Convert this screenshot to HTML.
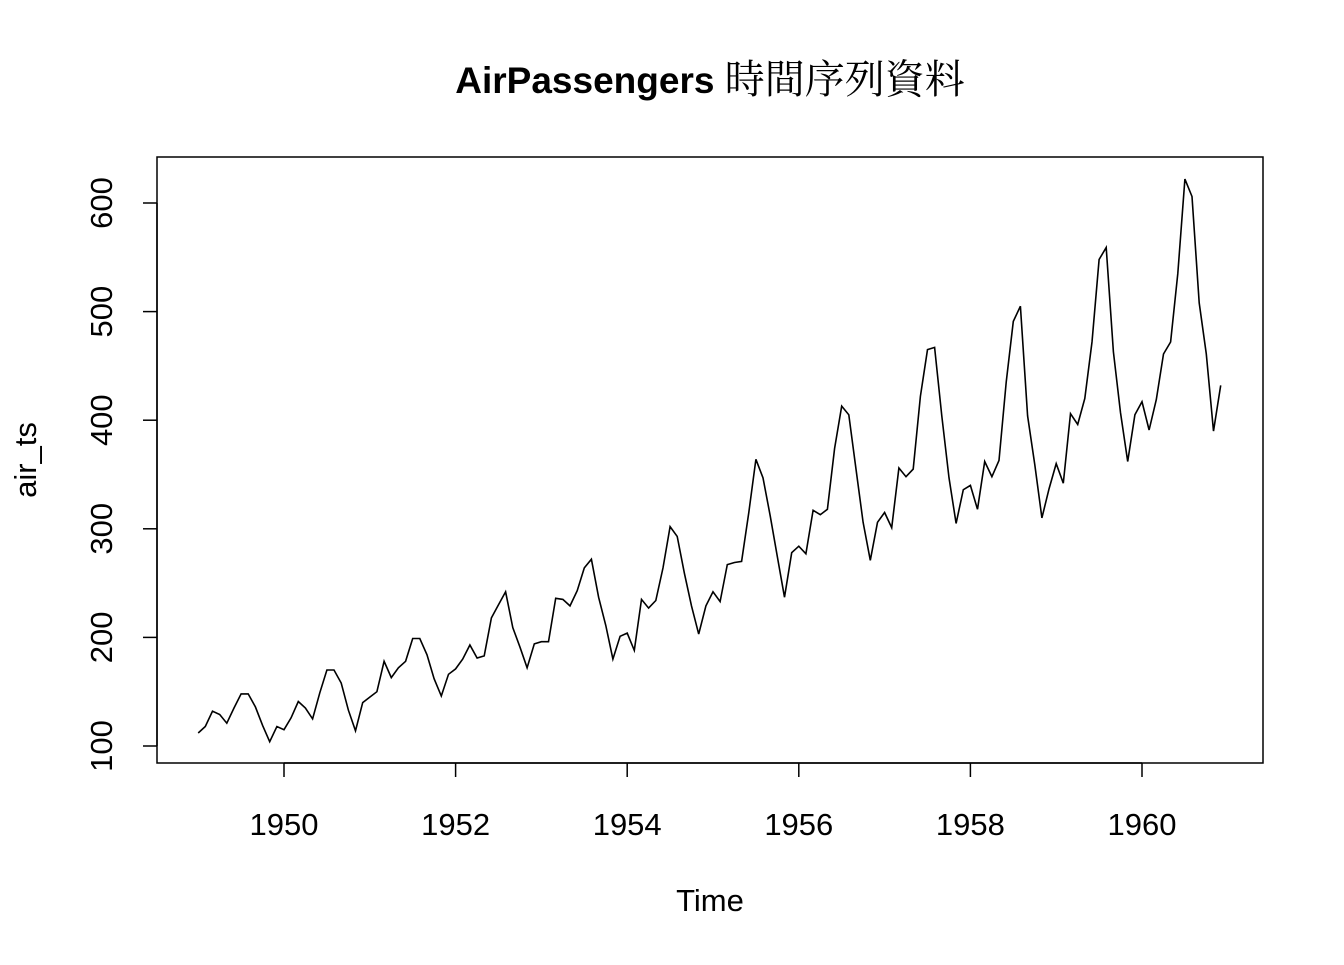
<!DOCTYPE html>
<html><head><meta charset="utf-8"><style>
html,body{margin:0;padding:0;background:#fff;}
svg text{font-family:"Liberation Sans","Noto Sans CJK TC",sans-serif;fill:#000;}
</style></head><body>
<svg id="chart" width="1344" height="960" viewBox="0 0 1344 960" xmlns="http://www.w3.org/2000/svg">
<rect width="1344" height="960" fill="#fff"/>
<text x="710" y="93" text-anchor="middle" font-size="37" font-weight="bold">AirPassengers <tspan style="font-family:'Noto Serif CJK SC','Noto Sans CJK TC',serif;font-weight:normal;font-size:40px">時間序列資料</tspan></text>
<rect x="157" y="157" width="1106" height="606" fill="none" stroke="#000" stroke-width="1.5"/>
<g id="xaxis"></g>
<g id="yaxis"></g>
<text x="710" y="911" text-anchor="middle" font-size="31">Time</text>
<text transform="translate(36,460) rotate(-90)" text-anchor="middle" font-size="31">air_ts</text>
<path id="line" fill="none" stroke="#000" stroke-width="1.6"/>
</svg>
<script>
const startYear = 1949;
const values = [112,118,132,129,121,135,148,148,136,119,104,118,
115,126,141,135,125,149,170,170,158,133,114,140,
145,150,178,163,172,178,199,199,184,162,146,166,
171,180,193,181,183,218,230,242,209,191,172,194,
196,196,236,235,229,243,264,272,237,211,180,201,
204,188,235,227,234,264,302,293,259,229,203,229,
242,233,267,269,270,315,364,347,312,274,237,278,
284,277,317,313,318,374,413,405,355,306,271,306,
315,301,356,348,355,422,465,467,404,347,305,336,
340,318,362,348,363,435,491,505,404,359,310,337,
360,342,406,396,420,472,548,559,463,407,362,405,
417,391,419,461,472,535,622,606,508,461,390,432];
const xTicks = [1950,1952,1954,1956,1958,1960];
const yTicks = [100,200,300,400,500,600];

const xs = t => 284 + (t - 1950) * (1142 - 284) / 10;
const ys = v => 746 - (v - 100) * (746 - 203) / 500;
const NS = "http://www.w3.org/2000/svg";
function mk(tag, attrs, parent){const e=document.createElementNS(NS,tag);for(const k in attrs)e.setAttribute(k,attrs[k]);parent.appendChild(e);return e;}

const xa = document.getElementById('xaxis');
mk('line',{x1:xs(xTicks[0]),x2:xs(xTicks[xTicks.length-1]),y1:763,y2:763,stroke:'#000','stroke-width':1.5},xa);
xTicks.forEach(t=>{
  const l=mk('line',{x1:xs(t),x2:xs(t),y1:763,y2:777,stroke:'#000','stroke-width':1.5},xa);
  
  
  const tx=mk('text',{x:xs(t),y:835,'text-anchor':'middle','font-size':31},xa);
  tx.textContent=t;
  
  
});
const ya = document.getElementById('yaxis');
mk('line',{x1:157,x2:157,y1:ys(yTicks[0]),y2:ys(yTicks[yTicks.length-1]),stroke:'#000','stroke-width':1.5},ya);
yTicks.forEach(v=>{
  const l=mk('line',{x1:143,x2:157,y1:ys(v),y2:ys(v),stroke:'#000','stroke-width':1.5},ya);
  
  
  const tx=mk('text',{transform:`translate(112,${ys(v)}) rotate(-90)`,'text-anchor':'middle','font-size':31},ya);
  tx.textContent=v;
  
  
});
let d='';
values.forEach((v,i)=>{const t=startYear+i/12;d+=(i?'L':'M')+xs(t).toFixed(1)+','+ys(v).toFixed(1);});
document.getElementById('line').setAttribute('d',d);
</script>
</body></html>
